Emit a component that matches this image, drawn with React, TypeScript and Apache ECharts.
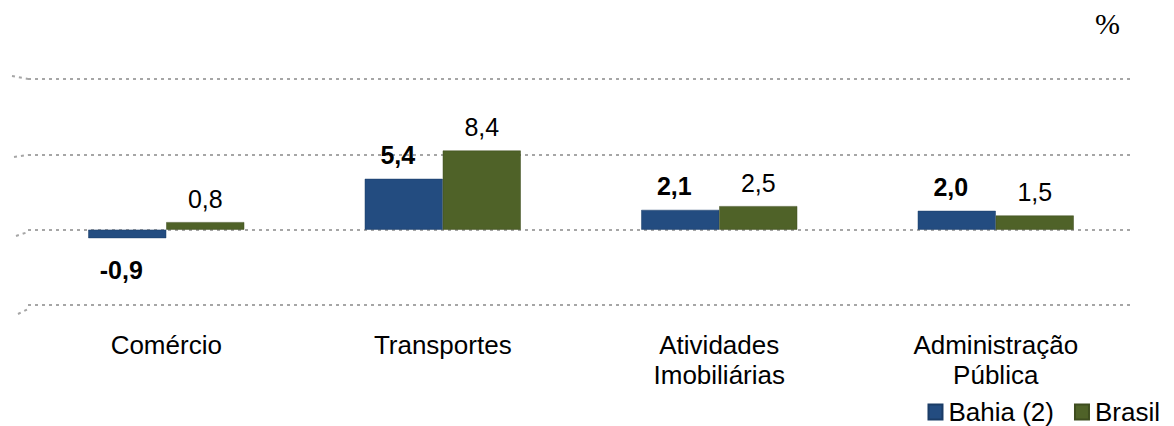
import React, { useEffect, useRef } from "react";
import * as echarts from "echarts";

const categories = ["Comércio", "Transportes", "Atividades\nImobiliárias", "Administração\nPública"];
const bahia = [-0.9, 5.4, 2.1, 2.0];
const brasil = [0.8, 8.4, 2.5, 1.5];
const seriesNames = ["Bahia (2)", "Brasil"];
const colors = ["#234C80", "#4F6228"];

const fmt = (v: number) => v.toFixed(1).replace(".", ",");

export default function App() {
  const ref = useRef<HTMLDivElement>(null);
  useEffect(() => {
    if (!ref.current) return;
    const chart = echarts.init(ref.current, undefined, { renderer: "svg" });
    const mkData = (arr: number[], dist: number) =>
      arr.map((v) => ({
        value: v,
        label: { position: v < 0 ? "bottom" : "top", distance: v < 0 ? 19 : dist },
      }));
    const dash = { stroke: "#A6A6A6", lineWidth: 2, lineDash: [3, 4] };
    chart.setOption({
      animation: false,
      textStyle: { fontFamily: "Liberation Sans, Arial, sans-serif" },
      grid: { left: 28, right: 40, top: 79, bottom: 426 - 305, containLabel: false },
      legend: {
        right: 14,
        top: 398,
        icon: "rect",
        itemWidth: 14,
        itemHeight: 15,
        itemGap: 20,
        padding: 0,
        textStyle: { fontSize: 26, lineHeight: 28, color: "#000", padding: [0, 0, 0, 1] },
        data: seriesNames,
      },
      graphic: [
        {
          type: "text",
          left: 1095,
          top: 8,
          style: { text: "%", fontFamily: "Liberation Serif, Times New Roman, serif", fontSize: 30, fill: "#000" },
        },
        { type: "line", shape: { x1: 12, y1: 76, x2: 28, y2: 79 }, style: dash, silent: true },
        { type: "line", shape: { x1: 14, y1: 157, x2: 28, y2: 155 }, style: dash, silent: true },
        { type: "line", shape: { x1: 16, y1: 236, x2: 28, y2: 232 }, style: dash, silent: true },
        { type: "line", shape: { x1: 18, y1: 314, x2: 28, y2: 309 }, style: dash, silent: true },
      ],
      xAxis: {
        type: "category",
        data: categories,
        axisLine: { show: false, onZero: false },
        axisTick: { show: false },
        axisLabel: { fontSize: 26, color: "#000", margin: 25, lineHeight: 30, interval: 0, verticalAlign: "top" },
      },
      yAxis: {
        type: "value",
        min: -8,
        max: 16,
        interval: 8,
        axisLabel: { show: false },
        axisLine: { show: false },
        axisTick: { show: false },
        splitLine: { lineStyle: { color: "#A6A6A6", width: 2, type: [3, 4] } },
      },
      series: [
        {
          name: seriesNames[0],
          type: "bar",
          data: mkData(bahia, 11),
          barWidth: 78,
          barGap: "0%",
          itemStyle: { color: colors[0], borderColor: "#1B3C66", borderWidth: 0.5 },
          label: {
            show: true,
            fontSize: 25,
            fontWeight: "bold",
            color: "#000",
            offset: [-6, 0],
            formatter: (p: any) => fmt(p.value),
          },
        },
        {
          name: seriesNames[1],
          type: "bar",
          data: mkData(brasil, 11),
          barWidth: 78,
          barGap: "0%",
          itemStyle: { color: colors[1], borderColor: "#3E4D1F", borderWidth: 0.5 },
          label: {
            show: true,
            fontSize: 25,
            color: "#000",
            formatter: (p: any) => fmt(p.value),
          },
        },
      ],
    });
    return () => chart.dispose();
  }, []);
  return (
    <div
      ref={ref}
      style={{ position: "fixed", left: 0, top: 0, width: 1174, height: 426, background: "#fff" }}
    />
  );
}
